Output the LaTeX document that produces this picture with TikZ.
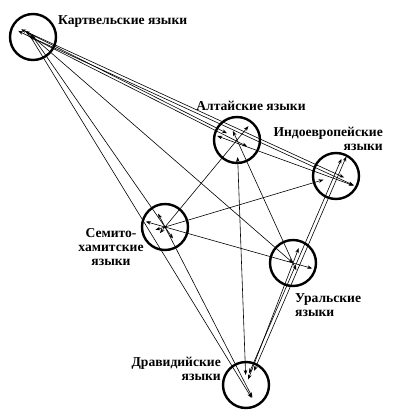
\documentclass[tikz,border=0pt]{standalone}
\usepackage{fontspec}
\setmainfont{Liberation Serif}
\usetikzlibrary{calc,arrows.meta}
\tikzset{
  lang/.style={draw, circle, line width=2.4pt, minimum size=46pt, inner sep=0pt},
  lbl/.style={font=\bfseries\fontsize{13.6}{13.8}\selectfont, inner sep=0pt},
  conn/.style={line width=0.6pt, {Stealth[length=5pt,width=3.6pt]}-{Stealth[length=5pt,width=3.6pt]}}
}
\newcommand\lnk[5]{\draw[conn] ($(#1.center)!#3!(#2.center)!#5!90:(#2.center)$) -- ($(#2.center)!#4!(#1.center)!#5!-90:(#1.center)$);}
\begin{document}
\begin{tikzpicture}[x=1pt,y=-1pt]
\useasboundingbox (0,0) rectangle (400,420);
\node[lang] (K) at (33,37) {};
\node[lang] (A) at (237,140) {};
\node[lang] (I) at (336,176) {};
\node[lang] (S) at (165,227) {};
\node[lang] (U) at (293,263) {};
\node[lang] (D) at (246,385) {};
\node[lbl, anchor=west] (lK) at (58,21) {Картвельские языки};
\node[lbl] (lA) at (251,106) {Алтайские языки};
\node[lbl, anchor=east, align=right] (lI) at (383,138.5) {Индоевропейские\\языки};
\node[lbl, align=center] (lS) at (111,247) {Семито-\\хамитские\\языки};
\node[lbl, anchor=west, align=left] (lU) at (295,305) {Уральские\\языки};
\node[lbl, anchor=east, align=right] (lD) at (221,368.5) {Дравидийские\\языки};
% K
\lnk{K}{A}{-10pt}{12pt}{1.5pt}
\lnk{K}{A}{-16pt}{-12pt}{-1.2pt}
\lnk{K}{I}{-14pt}{-8pt}{2pt}
\lnk{K}{I}{-4pt}{-20pt}{-1pt}
\lnk{K}{S}{-2pt}{-14pt}{0pt}
\lnk{K}{D}{-8pt}{-14pt}{-2pt}
\lnk{K}{U}{-4pt}{0pt}{0pt}
% A
\lnk{A}{I}{-20pt}{-20pt}{-3pt}
\lnk{A}{S}{-18pt}{-8pt}{0pt}
\lnk{A}{U}{-10pt}{-8pt}{0pt}
\lnk{A}{D}{17pt}{10pt}{0pt}
% I
\lnk{I}{S}{13pt}{-10pt}{0pt}
\lnk{I}{D}{-22pt}{16pt}{1.8pt}
\lnk{I}{D}{-18pt}{12pt}{-1.8pt}
% S
\lnk{S}{U}{-20pt}{-20pt}{0pt}
\lnk{S}{D}{-15pt}{-14pt}{0pt}
% U
\lnk{U}{D}{-16pt}{6pt}{0pt}
\end{tikzpicture}
\end{document}
